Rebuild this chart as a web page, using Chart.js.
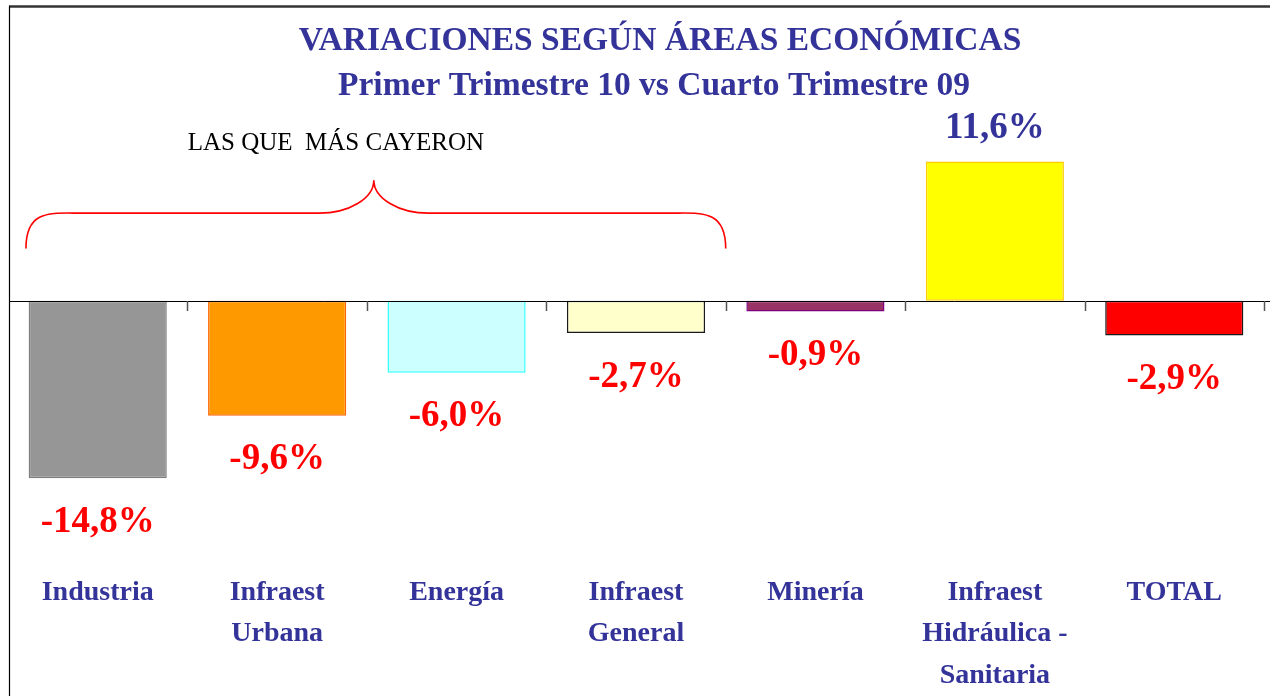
<!DOCTYPE html>
<html>
<head>
<meta charset="utf-8">
<script src="https://cdn.jsdelivr.net/npm/chart.js@4.4.1/dist/chart.umd.min.js"></script>
<style>
  html, body { margin: 0; padding: 0; background: #ffffff; }
  #wrap { width: 1270px; height: 696px; position: relative; }
</style>
</head>
<body>
<div id="wrap"><canvas id="c" width="1270" height="696"></canvas></div>
<script>
// ---- data ----
const categories = [
  ['Industria'],
  ['Infraest', 'Urbana'],
  ['Energía'],
  ['Infraest', 'General'],
  ['Minería'],
  ['Infraest', 'Hidráulica -', 'Sanitaria'],
  ['TOTAL']
];
const variations = [-14.8, -9.6, -6.0, -2.7, -0.9, 11.6, -2.9];
const titleLines = ['VARIACIONES SEGÚN ÁREAS ECONÓMICAS', 'Primer Trimestre 10 vs Cuarto Trimestre 09'];
const braceNote = 'LAS QUE  MÁS CAYERON';

// ---- styles ----
const fillColors   = ['#969696', '#FF9900', '#CCFFFF', '#FFFFCC', '#993366', '#FFFF00', '#FF0000'];
const borderColors = ['#808080', '#FF6600', '#33FFFF', '#1a1a1a', '#800080', '#FFCC00', '#1a1a1a'];
const SERIF = "'Liberation Serif', 'Times New Roman', serif";
const NAVY = '#333399';

function fmt(v) {
  return v.toFixed(1).replace('.', ',') + '%';
}

const decorPlugin = {
  id: 'decor',
  afterDatasetsDraw(chart) {
    const ctx = chart.ctx;
    const xs = chart.scales.x, ys = chart.scales.y;
    const area = chart.chartArea;
    const n = categories.length;
    const catW = (area.right - area.left) / n;
    const y0 = ys.getPixelForValue(0);
    ctx.save();
    // zero line
    ctx.strokeStyle = '#000';
    ctx.lineWidth = 1;
    ctx.beginPath();
    ctx.moveTo(9, Math.round(y0) + 0.5);
    ctx.lineTo(chart.width, Math.round(y0) + 0.5);
    ctx.stroke();
    // tick marks at category boundaries
    ctx.strokeStyle = '#555';
    ctx.lineWidth = 1.5;
    for (let k = 1; k <= n; k++) {
      const x = Math.round(area.left + k * catW) + 0.5;
      ctx.beginPath();
      ctx.moveTo(x, Math.round(y0));
      ctx.lineTo(x, Math.round(y0) + 10);
      ctx.stroke();
    }
    // value labels
    const meta = chart.getDatasetMeta(0);
    ctx.font = 'bold 37px ' + SERIF;
    ctx.textAlign = 'center';
    ctx.textBaseline = 'middle';
    meta.data.forEach((bar, i) => {
      const v = variations[i];
      if (v < 0) {
        ctx.fillStyle = '#FF0000';
        ctx.fillText(fmt(v), bar.x, bar.y + 44);
      } else {
        ctx.fillStyle = NAVY;
        ctx.fillText(fmt(v), bar.x, bar.y - 33);
      }
    });
    // brace over first four categories
    const left = xs.getPixelForValue(0) - 0.4 * catW;
    const right = xs.getPixelForValue(3) + 0.5 * catW;
    const mid = (left + right) / 2 - 2;
    const yEnd = ys.getPixelForValue(4.35);
    const yBar = ys.getPixelForValue(7.3);
    const yPeak = ys.getPixelForValue(10.05);
    const rx = 54, rxm = 55;
    ctx.strokeStyle = '#FF0000';
    ctx.lineWidth = 1.6;
    ctx.beginPath();
    ctx.moveTo(left, yEnd);
    ctx.bezierCurveTo(left, yBar - (yEnd - yBar) * 0.1, left + rx * 0.45, yBar, left + rx, yBar);
    ctx.lineTo(mid - rxm, yBar);
    ctx.bezierCurveTo(mid - rxm * 0.45, yBar, mid, yBar - (yBar - yPeak) * 0.45, mid, yPeak);
    ctx.bezierCurveTo(mid, yBar - (yBar - yPeak) * 0.45, mid + rxm * 0.45, yBar, mid + rxm, yBar);
    ctx.lineTo(right - rx, yBar);
    ctx.bezierCurveTo(right - rx * 0.45, yBar, right, yBar - (yEnd - yBar) * 0.1, right, yEnd);
    ctx.stroke();
    // note text
    ctx.fillStyle = '#000';
    ctx.font = '25px ' + SERIF;
    ctx.textAlign = 'center';
    ctx.textBaseline = 'middle';
    ctx.fillText(braceNote, mid - 38, ys.getPixelForValue(13.1));
    ctx.restore();
  },
  afterDraw(chart) {
    const ctx = chart.ctx;
    ctx.save();
    // titles
    ctx.fillStyle = NAVY;
    ctx.font = 'bold 33.5px ' + SERIF;
    ctx.textAlign = 'center';
    ctx.textBaseline = 'middle';
    ctx.fillText(titleLines[0], 660, 41);
    ctx.fillText(titleLines[1], 654, 86);
    // frame
    ctx.strokeStyle = '#333';
    ctx.lineWidth = 2.5;
    ctx.beginPath();
    ctx.moveTo(9, 6.5);
    ctx.lineTo(chart.width, 6.5);
    ctx.stroke();
    ctx.strokeStyle = '#000';
    ctx.lineWidth = 1.2;
    ctx.beginPath();
    ctx.moveTo(9.5, 6);
    ctx.lineTo(9.5, chart.height);
    ctx.stroke();
    ctx.restore();
  }
};

new Chart(document.getElementById('c'), {
  type: 'bar',
  data: {
    labels: categories,
    datasets: [{
      data: variations,
      backgroundColor: fillColors,
      borderColor: borderColors,
      borderWidth: 1.5,
      borderSkipped: false,
      categoryPercentage: 1.0,
      barPercentage: 0.77
    }]
  },
  options: {
    responsive: false,
    animation: false,
    layout: { padding: { left: 8, right: 6, top: 110, bottom: -8 } },
    plugins: {
      legend: { display: false },
      tooltip: { enabled: false },
      title: { display: false }
    },
    scales: {
      x: {
        offset: true,
        grid: { display: false, drawTicks: false },
        border: { display: false },
        ticks: {
          color: NAVY,
          font: { family: SERIF, size: 28, weight: 'bold', lineHeight: 1.47 },
          padding: 8,
          maxRotation: 0,
          autoSkip: false
        }
      },
      y: {
        display: false,
        min: -22,
        max: 15.9
      }
    }
  },
  plugins: [decorPlugin]
});
</script>
</body>
</html>
